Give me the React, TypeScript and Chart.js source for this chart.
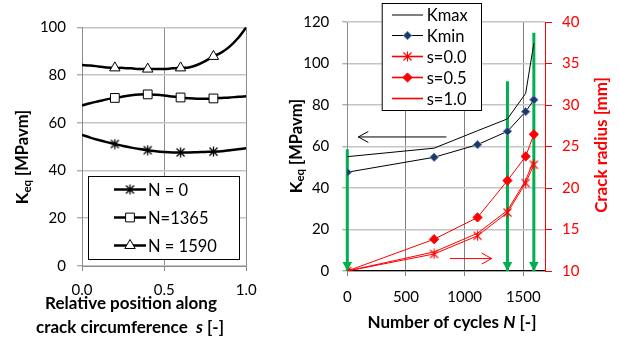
import React, { useEffect, useRef } from 'react';
import { Chart, registerables } from 'chart.js';

Chart.register(...registerables);

// ---------- Left chart: Keq along the crack front ----------
const sPositions = [0, 0.05, 0.1, 0.15, 0.2, 0.25, 0.3, 0.35, 0.4, 0.45, 0.5, 0.55, 0.6, 0.65, 0.7, 0.75, 0.8, 0.85, 0.9, 0.95, 1.0];
const keqN0 = [54.9, 53.8, 52.8, 51.9, 51.1, 50.3, 49.6, 49.0, 48.5, 48.1, 47.8, 47.6, 47.6, 47.6, 47.7, 47.8, 47.9, 48.1, 48.5, 48.9, 49.3];
const keqN1365 = [67.3, 68.2, 69.0, 69.8, 70.4, 71.0, 71.5, 71.8, 71.9, 71.7, 71.4, 71.0, 70.6, 70.3, 70.1, 70.1, 70.2, 70.4, 70.6, 70.9, 71.1];
const keqN1590 = [84.2, 84.0, 83.6, 83.2, 83.0, 83.0, 82.8, 82.5, 82.5, 82.5, 82.5, 82.8, 83.0, 83.2, 84.2, 85.8, 87.8, 89.5, 92.0, 95.5, 100];
const markerPositions = [0.2, 0.4, 0.6, 0.8];
const leftSeriesLabels = ['N = 0', 'N=1365', 'N = 1590'];

// ---------- Right chart: Keq and crack radius vs cycles ----------
const cycles = [0, 740, 1110, 1365, 1520, 1590];
const kmaxValues = [55.1, 59.2, 67.6, 73.3, 85.6, 109.7];
const kminValues = [47.6, 54.8, 60.9, 67.3, 76.8, 82.5];
const radiusS00 = [10, 12.05, 14.24, 17.04, 20.6, 22.8];
const radiusS05 = [10, 13.83, 16.45, 20.9, 23.8, 26.47];
const radiusS10 = [10, 12.3, 14.55, 17.3, 20.9, 23.4];
const snapshotCycles = [0, 1365, 1590];
const snapshotArrowTops = [58.7, 91.5, 114.8];
const kArrowCycles = [845, 94];
const kArrowValue = 64.6;
const rArrowCycles = [875, 1230];
const rArrowValue = 11.5;
const rightXTicks = [0, 500, 1000, 1500];
const rightXMax = 1685;

const FONT = 'Lato';
const TICK_FONT = { family: FONT, size: 15 };

type Run = { text: string; font: string; dy?: number };
type TextLabel = { runs: Run[]; x: number; y: number; rotate: number; color: string };

function makeTextPlugin(id: string, labels: TextLabel[]) {
  return {
    id,
    afterDraw(chart: any) {
      const ctx = chart.ctx;
      labels.forEach((lab) => {
        ctx.save();
        ctx.translate(lab.x, lab.y);
        ctx.rotate(lab.rotate);
        ctx.fillStyle = lab.color;
        ctx.textBaseline = 'middle';
        ctx.textAlign = 'left';
        let total = 0;
        const widths = lab.runs.map((r) => {
          ctx.font = r.font;
          const w = ctx.measureText(r.text).width;
          total += w;
          return w;
        });
        let cx = -total / 2;
        lab.runs.forEach((r, i) => {
          ctx.font = r.font;
          ctx.fillText(r.text, cx, r.dy || 0);
          cx += widths[i];
        });
        ctx.restore();
      });
    },
  };
}

function drawMarker(ctx: any, style: any, x: number, y: number, r: number, fill: string, stroke: string, bw: number) {
  if (!style || r <= 0) return;
  if (typeof style === 'object') {
    ctx.drawImage(style, x - style.width / 2, y - style.height / 2);
    return;
  }
  ctx.beginPath();
  if (style === 'triangle') {
    ctx.moveTo(x, y - r);
    ctx.lineTo(x + r * 0.866, y + r * 0.5);
    ctx.lineTo(x - r * 0.866, y + r * 0.5);
    ctx.closePath();
  } else if (style === 'rect') {
    const s = r * Math.SQRT1_2;
    ctx.rect(x - s, y - s, 2 * s, 2 * s);
  } else if (style === 'rectRot') {
    ctx.moveTo(x, y - r);
    ctx.lineTo(x + r, y);
    ctx.lineTo(x, y + r);
    ctx.lineTo(x - r, y);
    ctx.closePath();
  }
  ctx.fillStyle = fill;
  ctx.fill();
  ctx.lineWidth = bw;
  ctx.strokeStyle = stroke;
  ctx.stroke();
}

type LegendCfg = {
  left: number; top: number; width: number; height: number; rows: number[];
  lineX0: number; lineX1: number; textX: number; font: string; order: number[];
};

function makeBoxLegend(id: string, cfg: LegendCfg) {
  return {
    id,
    afterDraw(chart: any) {
      const ctx = chart.ctx;
      ctx.save();
      ctx.fillStyle = '#fff';
      ctx.fillRect(cfg.left, cfg.top, cfg.width, cfg.height);
      ctx.strokeStyle = '#000';
      ctx.lineWidth = 1;
      ctx.strokeRect(cfg.left + 0.5, cfg.top + 0.5, cfg.width, cfg.height);
      cfg.order.forEach((di, row) => {
        const ds = chart.data.datasets[di];
        const y = cfg.rows[row];
        ctx.beginPath();
        ctx.moveTo(cfg.lineX0, y);
        ctx.lineTo(cfg.lineX1, y);
        ctx.strokeStyle = ds.borderColor;
        ctx.lineWidth = ds.legendLineWidth ?? ds.borderWidth;
        ctx.stroke();
        drawMarker(ctx, ds.pointStyle, (cfg.lineX0 + cfg.lineX1) / 2, y, ds.legendRadius || 0,
          ds.pointBackgroundColor, ds.pointBorderColor, ds.pointBorderWidth ?? 1);
        ctx.fillStyle = '#000';
        ctx.font = cfg.font;
        ctx.textBaseline = 'middle';
        ctx.textAlign = 'left';
        ctx.fillText(ds.label, cfg.textX, y + 1);
      });
      ctx.restore();
    },
  };
}

const arrowPlugin = {
  id: 'arrowHeads',
  afterDatasetsDraw(chart: any) {
    const ctx = chart.ctx;
    chart.data.datasets.forEach((ds: any, i: number) => {
      if (!ds.arrowHead) return;
      const pts = chart.getDatasetMeta(i).data;
      const a = pts[pts.length - 2];
      const b = pts[pts.length - 1];
      const ang = Math.atan2(b.y - a.y, b.x - a.x);
      const L = ds.arrowLength;
      const W = ds.arrowHalfWidth;
      ctx.save();
      ctx.translate(b.x, b.y);
      ctx.rotate(ang);
      ctx.beginPath();
      ctx.moveTo(-L, -W);
      ctx.lineTo(0, 0);
      ctx.lineTo(-L, W);
      if (ds.arrowHead === 'filled') {
        ctx.closePath();
        ctx.fillStyle = ds.borderColor;
        ctx.fill();
      } else {
        ctx.strokeStyle = ds.borderColor;
        ctx.lineWidth = ds.borderWidth;
        ctx.stroke();
      }
      ctx.restore();
    });
  },
};

function makeAsterisk(size: number, color: string, lw: number) {
  const c = document.createElement('canvas');
  c.width = size;
  c.height = size;
  const g = c.getContext('2d') as CanvasRenderingContext2D;
  g.strokeStyle = color;
  g.lineWidth = lw;
  const m = size / 2;
  const r = size / 2 - 0.5;
  const d = r * 0.8;
  g.beginPath();
  g.moveTo(m, m - r);
  g.lineTo(m, m + r);
  g.moveTo(m - d, m - d);
  g.lineTo(m + d, m + d);
  g.moveTo(m + d, m - d);
  g.lineTo(m - d, m + d);
  g.stroke();
  return c;
}

const toXY = (xs: number[], ys: number[]) => xs.map((x, i) => ({ x, y: ys[i] }));

export default function App() {
  const leftRef = useRef<HTMLCanvasElement>(null);
  const rightRef = useRef<HTMLCanvasElement>(null);

  useEffect(() => {
    document.body.style.margin = '0';
    const charts: Chart[] = [];
    const blackStar = makeAsterisk(11, '#000', 1.3);
    const redStar = makeAsterisk(11, '#ff0000', 1.1);

    // ----- left chart -----
    const leftStyles: any[] = [blackStar, 'rect', 'triangle'];
    const leftRadii = [5.5, 6.2, 6];
    const leftData = [keqN0, keqN1365, keqN1590];
    const leftDatasets = leftData.map((vals, k) => ({
      label: leftSeriesLabels[k],
      data: toXY(sPositions, vals),
      borderColor: '#000',
      borderWidth: 2.5,
      tension: 0.3,
      pointStyle: leftStyles[k],
      pointBackgroundColor: '#fff',
      pointBorderColor: '#000',
      pointBorderWidth: 1,
      legendRadius: leftRadii[k],
      legendLineWidth: 2.5,
      pointRadius: (ctx: any) =>
        ctx.raw && markerPositions.some((m) => Math.abs(ctx.raw.x - m) < 1e-9) ? leftRadii[k] : 0,
    }));

    const leftTitles = makeTextPlugin('leftTitles', [
      {
        runs: [
          { text: 'K', font: `bold 17px ${FONT}` },
          { text: 'eq', font: `bold 11.5px ${FONT}`, dy: 4 },
          { text: ' [MPavm]', font: `bold 16.5px ${FONT}` },
        ],
        x: 23, y: 157, rotate: -Math.PI / 2, color: '#000',
      },
      { runs: [{ text: 'Relative position along', font: `bold 17px ${FONT}` }], x: 131, y: 304, rotate: 0, color: '#000' },
      {
        runs: [
          { text: 'crack circumference  ', font: `bold 17px ${FONT}` },
          { text: 's', font: `italic bold 17px ${FONT}` },
          { text: ' [-]', font: `bold 17px ${FONT}` },
        ],
        x: 130, y: 328, rotate: 0, color: '#000',
      },
    ]);

    const leftLegend = makeBoxLegend('leftLegend', {
      left: 88, top: 176, width: 151, height: 83, rows: [189.5, 217.5, 245.5],
      lineX0: 114, lineX1: 146, textX: 148, font: `16.5px ${FONT}`, order: [0, 1, 2],
    });

    if (leftRef.current) {
      charts.push(new Chart(leftRef.current, {
        type: 'line',
        data: { datasets: leftDatasets as any },
        options: {
          responsive: false,
          animation: false,
          devicePixelRatio: 1,
          events: [],
          layout: { padding: { left: 0, right: 33.7, top: 27.3, bottom: 0 } },
          plugins: { legend: { display: false }, tooltip: { enabled: false } },
          scales: {
            x: {
              type: 'linear', min: 0, max: 1,
              ticks: { stepSize: 0.5, callback: (v: any) => Number(v).toFixed(1), font: TICK_FONT, color: '#000', padding: 10, maxRotation: 0 },
              grid: { color: '#8c8c8c', lineWidth: 1, tickLength: 5, tickColor: '#8c8c8c' },
              border: { color: '#8c8c8c', width: 1 },
              afterFit: (s: any) => { s.height = 72; },
            },
            y: {
              min: 0, max: 100,
              ticks: { stepSize: 20, font: TICK_FONT, color: '#000', padding: 11 },
              grid: { color: '#c4c4c4', lineWidth: 1.6, tickLength: 5, tickColor: '#8c8c8c', tickWidth: 1 },
              border: { color: '#8c8c8c', width: 1 },
              afterFit: (s: any) => { s.width = 82; },
            },
          },
        },
        plugins: [leftLegend, leftTitles],
      } as any));
    }

    // ----- right chart -----
    const rightDatasets: any[] = [
      {
        label: 'Kmin', data: toXY(cycles, kminValues), yAxisID: 'y',
        borderColor: '#000', borderWidth: 1, pointStyle: 'rectRot', pointRadius: 4.2,
        pointBackgroundColor: '#1f3864', pointBorderColor: '#5a86c0', pointBorderWidth: 1, legendRadius: 4.2,
      },
      {
        label: 'Kmax', data: toXY(cycles, kmaxValues), yAxisID: 'y',
        borderColor: '#000', borderWidth: 1, pointRadius: 0, legendRadius: 0,
      },
      {
        label: 's=0.5', data: toXY(cycles, radiusS05), yAxisID: 'y2',
        borderColor: '#ff0000', borderWidth: 1, pointStyle: 'rectRot', pointRadius: 4.6,
        pointBackgroundColor: '#ff0000', pointBorderColor: '#ff0000', pointBorderWidth: 1, legendRadius: 4.6, legendLineWidth: 1.6,
      },
      {
        label: 's=0.0', data: toXY(cycles, radiusS00), yAxisID: 'y2',
        borderColor: '#ff0000', borderWidth: 1, pointStyle: redStar, pointRadius: 5,
        pointBackgroundColor: '#ff0000', pointBorderColor: '#ff0000', legendRadius: 5, legendLineWidth: 1.6,
      },
      {
        label: 's=1.0', data: toXY(cycles, radiusS10), yAxisID: 'y2',
        borderColor: '#ff0000', borderWidth: 1, pointRadius: 0, legendRadius: 0, legendLineWidth: 1.6,
      },
      {
        label: 'to left axis', data: kArrowCycles.map((c) => ({ x: c, y: kArrowValue })), yAxisID: 'y',
        borderColor: '#000', borderWidth: 1, pointRadius: 0, arrowHead: 'open', arrowLength: 10, arrowHalfWidth: 5.5,
      },
      {
        label: 'to right axis', data: rArrowCycles.map((c) => ({ x: c, y: rArrowValue })), yAxisID: 'y2',
        borderColor: '#ff0000', borderWidth: 1, pointRadius: 0, arrowHead: 'open', arrowLength: 10, arrowHalfWidth: 5.5,
      },
      ...snapshotCycles.map((c, i) => ({
        label: 'snapshot', data: [{ x: c, y: snapshotArrowTops[i] }, { x: c, y: 0 }], yAxisID: 'y',
        borderColor: '#00b050', borderWidth: 3, pointRadius: 0, clip: false, borderCapStyle: 'butt',
        arrowHead: 'filled', arrowLength: 9, arrowHalfWidth: 4.8,
      })),
    ];

    const rightTitles = makeTextPlugin('rightTitles', [
      {
        runs: [
          { text: 'K', font: `bold 17px ${FONT}` },
          { text: 'eq', font: `bold 11.5px ${FONT}`, dy: 4 },
          { text: ' [MPavm]', font: `bold 16.5px ${FONT}` },
        ],
        x: 16.7, y: 146, rotate: -Math.PI / 2, color: '#000',
      },
      { runs: [{ text: 'Crack radius [mm]', font: `bold 17px ${FONT}` }], x: 321.7, y: 145, rotate: -Math.PI / 2, color: '#ff0000' },
      {
        runs: [
          { text: 'Number of cycles ', font: `bold 17px ${FONT}` },
          { text: 'N', font: `italic bold 17px ${FONT}` },
          { text: ' [-]', font: `bold 17px ${FONT}` },
        ],
        x: 172, y: 323, rotate: 0, color: '#000',
      },
    ]);

    const rightLegend = makeBoxLegend('rightLegend', {
      left: 101.7, top: 3, width: 99.3, height: 107, rows: [15, 35.5, 56.5, 77.5, 98.5],
      lineX0: 112, lineX1: 143, textX: 146.7, font: `16.5px ${FONT}`, order: [1, 0, 3, 2, 4],
    });

    if (rightRef.current) {
      charts.push(new Chart(rightRef.current, {
        type: 'line',
        data: { datasets: rightDatasets },
        options: {
          responsive: false,
          animation: false,
          devicePixelRatio: 1,
          events: [],
          layout: { padding: { left: 0, right: 0, top: 18.3, bottom: 0 } },
          plugins: { legend: { display: false }, tooltip: { enabled: false } },
          scales: {
            x: {
              type: 'linear', min: 0, max: rightXMax,
              afterBuildTicks: (s: any) => { s.ticks = rightXTicks.map((v) => ({ value: v })); },
              ticks: { font: TICK_FONT, color: '#000', padding: 12, maxRotation: 0, autoSkip: false, callback: (v: any) => String(v) },
              grid: { color: '#808080', lineWidth: 1, tickLength: 5, tickColor: '#808080' },
              border: { color: '#000', width: 1.2 },
              afterFit: (s: any) => { s.height = 67; },
            },
            y: {
              position: 'left', min: 0, max: 120,
              ticks: { stepSize: 20, font: TICK_FONT, color: '#000', padding: 13 },
              grid: { color: '#c4c4c4', lineWidth: 1.6, tickLength: 5, tickColor: '#8c8c8c', tickWidth: 1 },
              border: { color: '#8c8c8c', width: 1 },
              afterFit: (s: any) => { s.width = 67.3; },
            },
            y2: {
              position: 'right', min: 10, max: 40,
              ticks: { stepSize: 5, font: TICK_FONT, color: '#ff0000', padding: 10 },
              grid: { drawOnChartArea: false, tickLength: 7, tickColor: '#ff0000', color: '#ff0000' },
              border: { color: '#ff0000', width: 1 },
              afterFit: (s: any) => { s.width = 74; },
            },
          },
        },
        plugins: [arrowPlugin, rightLegend, rightTitles],
      } as any));
    }

    return () => charts.forEach((c) => c.destroy());
  }, []);

  return (
    <div style={{ position: 'fixed', left: 0, top: 0, width: 619, height: 338, background: '#fff', overflow: 'hidden' }}>
      <canvas ref={leftRef} width={280} height={338} style={{ position: 'absolute', left: 0, top: 0 }} />
      <canvas ref={rightRef} width={339} height={338} style={{ position: 'absolute', left: 280, top: 0 }} />
    </div>
  );
}
